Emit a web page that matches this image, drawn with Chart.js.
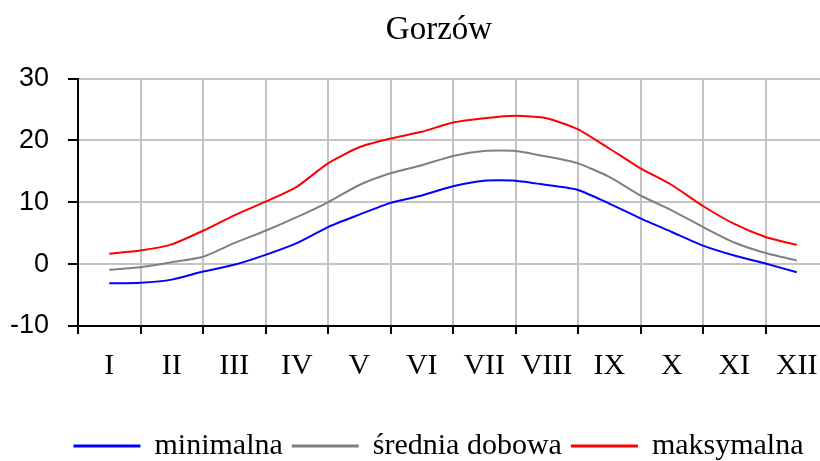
<!DOCTYPE html>
<html>
<head>
<meta charset="utf-8">
<script src="https://cdn.jsdelivr.net/npm/chart.js@4.4.1/dist/chart.umd.min.js"></script>
<style>
  html, body { margin: 0; padding: 0; overflow: hidden; background: #fff; }
  #wrap { width: 820px; height: 461px; overflow: hidden; }
  canvas { display: block; }
</style>
</head>
<body>
<div id="wrap"><canvas id="chart_canvas" width="878" height="471"></canvas></div>
<script>
// month labels (roman numerals)
const months = ['I', 'II', 'III', 'IV', 'V', 'VI', 'VII', 'VIII', 'IX', 'X', 'XI', 'XII'];
// position of each reading, in months from the start of the year
const positions = [0.5, 1, 1.5, 2, 2.5, 3, 3.5, 4, 4.5, 5, 5.5, 6, 6.5, 7, 7.5, 8, 8.5, 9, 9.5, 10, 10.5, 11, 11.5];

const minimalna = [-3.1, -3.0, -2.5, -1.2, -0.1, 1.5, 3.4, 6.0, 8.0, 9.9, 11.1, 12.6, 13.5, 13.5, 12.8, 12.0, 9.8, 7.4, 5.2, 3.0, 1.4, 0.1, -1.3];
const srednia = [-0.9, -0.5, 0.3, 1.2, 3.4, 5.4, 7.6, 10.0, 12.8, 14.7, 16.0, 17.5, 18.3, 18.3, 17.4, 16.3, 14.1, 11.1, 8.7, 6.0, 3.5, 1.8, 0.6];
const maksymalna = [1.7, 2.2, 3.2, 5.4, 7.9, 10.1, 12.5, 16.3, 18.9, 20.3, 21.4, 22.9, 23.6, 24.0, 23.6, 21.8, 18.7, 15.5, 12.8, 9.4, 6.5, 4.4, 3.1];

const yTicks = [-10, 0, 10, 20, 30];

function toPoints(vals) {
    return vals.map(function (v, i) { return {x: positions[i], y: v}; });
}

const ctx = document.getElementById('chart_canvas');

var chartDraw = new Chart(ctx, {
    type: 'line',
    data: {
        datasets: [{
                label: 'minimalna',
                data: toPoints(minimalna),
                borderColor: '#0000ff',
                backgroundColor: '#0000ff',
                borderWidth: 2,
                pointRadius: 0,
                tension: 0.2
            }, {
                label: 'średnia dobowa',
                data: toPoints(srednia),
                borderColor: '#808080',
                backgroundColor: '#808080',
                borderWidth: 2,
                pointRadius: 0,
                tension: 0.2
            }, {
                label: 'maksymalna',
                data: toPoints(maksymalna),
                borderColor: '#ff0000',
                backgroundColor: '#ff0000',
                borderWidth: 2,
                pointRadius: 0,
                tension: 0.2
            }]
    },
    options: {
        responsive: false,
        animation: false,
        layout: {
            padding: 0
        },
        plugins: {
            title: {
                display: true,
                text: 'Gorzów',
                color: '#000',
                font: {family: '"Liberation Serif", "Times New Roman", serif', size: 33, weight: 'normal'},
                padding: {top: 11, bottom: 28}
            },
            legend: {
                position: 'bottom',
                labels: {
                    color: '#000',
                    font: {family: '"Liberation Serif", "Times New Roman", serif', size: 30},
                    boxWidth: 65,
                    boxHeight: 1,
                    padding: 10
                }
            },
            tooltip: {enabled: false}
        },
        scales: {
            x: {
                type: 'linear',
                min: 0,
                max: 12,
                afterBuildTicks: function (scale) {
                    scale.ticks = months.map(function (m, i) { return {value: i + 0.5}; });
                },
                afterFit: function (scale) {
                    scale.height = 95;
                },
                ticks: {
                    autoSkip: false,
                    maxRotation: 0,
                    padding: 14,
                    color: '#000',
                    font: {family: '"Liberation Serif", "Times New Roman", serif', size: 30},
                    callback: function (v, i) { return months[i]; }
                },
                grid: {
                    offset: true,
                    color: '#c4c4c4',
                    lineWidth: 2,
                    tickColor: '#000',
                    tickLength: 8
                },
                border: {color: '#000', width: 2}
            },
            y: {
                min: -10,
                max: 30,
                afterBuildTicks: function (scale) {
                    scale.ticks = yTicks.map(function (v) { return {value: v}; });
                },
                afterFit: function (scale) {
                    scale.width = 78;
                },
                ticks: {
                    padding: 19,
                    color: '#000',
                    font: {family: '"Liberation Sans", Arial, sans-serif', size: 27}
                },
                grid: {
                    color: '#c4c4c4',
                    lineWidth: 2,
                    tickColor: '#000',
                    tickLength: 10
                },
                border: {color: '#000', width: 2}
            },
            // empty space on the right, the picture is cut off there
            yRight: {
                position: 'right',
                afterFit: function (scale) {
                    scale.width = 50;
                },
                ticks: {display: false},
                grid: {display: false},
                border: {display: false}
            }
        }
    }
});
</script>
</body>
</html>
